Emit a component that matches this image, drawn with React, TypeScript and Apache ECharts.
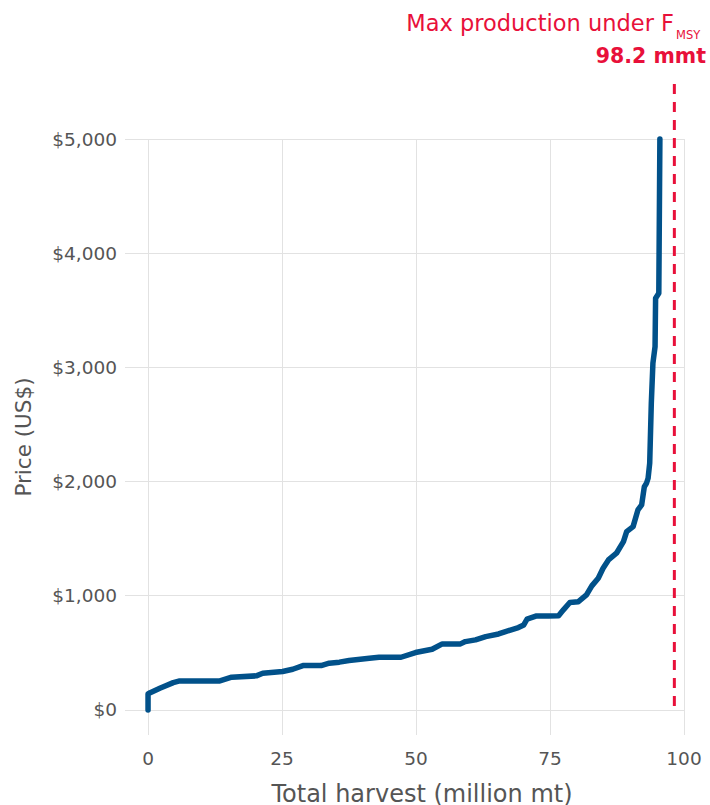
import React, { useEffect, useRef } from "react";
import * as echarts from "echarts";

// Supply curve: cumulative harvest (million mt) vs price (US$)
const harvest = [
  0, 0, 0.4, 2.2, 4.7, 5.9, 13.4, 15.6, 20.2, 21.4, 25.1, 27.0, 28.9, 32.3, 33.8, 35.7,
  37.5, 41.3, 43.1, 47.2, 49.9, 53.0, 54.9, 58.3, 59.2, 61.1, 63.0, 65.4, 66.7, 69.1,
  70.1, 70.7, 72.5, 74.7, 76.6, 77.5, 78.7, 80.3, 81.8, 82.8, 84.0, 84.9, 85.9, 87.4,
  88.7, 89.3, 90.5, 91.4, 92.1, 92.6, 93.0, 93.3, 93.6, 93.9, 94.2, 94.6, 94.7, 95.3, 95.5,
];
const price = [
  0, 140, 151, 190, 239, 254, 254, 286, 298, 321, 336, 356, 388, 388, 409, 418,
  432, 452, 461, 461, 502, 531, 578, 578, 598, 613, 642, 665, 686, 721,
  744, 794, 823, 823, 825, 876, 940, 948, 1007, 1086, 1153, 1241, 1313, 1372,
  1474, 1561, 1605, 1751, 1795, 1955, 1985, 2029, 2160, 2686, 3036, 3181, 3605, 3649, 5000,
];
const xTicks = [0, 25, 50, 75, 100];
const yTicks = [0, 1000, 2000, 3000, 4000, 5000];
const fmsyHarvest = 98.2;
const xTitle = "Total harvest (million mt)";
const yTitle = "Price (US$)";
const annotationTitle = "Max production under F";
const annotationSub = "MSY";
const annotationValue = "98.2 mmt";

const FONT = "'DejaVu Sans', sans-serif";
const GREY = "#555555";
const RED = "#e8103a";
const BLUE = "#01518a";

export default function App() {
  const ref = useRef<HTMLDivElement>(null);

  useEffect(() => {
    if (!ref.current) return;
    const chart = echarts.init(ref.current, undefined, { renderer: "svg" });
    const data = harvest.map((h, i) => [h, price[i]]);
    chart.setOption({
      animation: false,
      grid: { left: 125, right: 26, top: 139, bottom: 70, outerBoundsMode: "none" },
      xAxis: {
        type: "value",
        min: -4.3,
        max: 100,
        axisLine: { show: false },
        axisTick: { show: false, customValues: xTicks },
        axisLabel: {
          customValues: xTicks,
          color: GREY,
          fontSize: 18.5,
          fontFamily: FONT,
          margin: 14,
        },
        splitLine: { show: true, lineStyle: { color: "#e2e2e2", width: 1 } },
      },
      yAxis: {
        type: "value",
        min: -220,
        max: 5000,
        name: yTitle,
        nameLocation: "middle",
        nameGap: 91,
        nameTextStyle: { color: GREY, fontSize: 21.5, fontFamily: FONT },
        axisLine: { show: false },
        axisTick: { show: false, customValues: yTicks },
        axisLabel: {
          customValues: yTicks,
          color: GREY,
          fontSize: 18.5,
          fontFamily: FONT,
          margin: 8,
          formatter: (v: number) => "$" + v.toLocaleString("en-US"),
        },
        splitLine: { show: true, lineStyle: { color: "#e2e2e2", width: 1 } },
      },
      series: [
        {
          type: "line",
          data,
          showSymbol: false,
          symbol: "none",
          smooth: false,
          lineStyle: { color: BLUE, width: 5.5, cap: "round", join: "round" },
          clip: false,
        },
      ],
    });

    const xPx = chart.convertToPixel({ xAxisIndex: 0 }, fmsyHarvest) as number;
    const y0 = chart.convertToPixel({ yAxisIndex: 0 }, 0) as number;
    chart.setOption({
      graphic: [
        {
          type: "line",
          shape: { x1: xPx, y1: 84, x2: xPx, y2: y0 },
          style: { stroke: RED, lineWidth: 3, lineDash: [10, 8] },
          z: 10,
        },
        {
          type: "text",
          x: 422,
          y: 794,
          style: {
            text: xTitle,
            fill: GREY,
            fontSize: 24,
            fontFamily: FONT,
            align: "center",
            verticalAlign: "middle",
          },
        },
        {
          type: "text",
          x: 674,
          y: 23,
          style: {
            text: annotationTitle,
            fill: RED,
            fontSize: 22.5,
            fontFamily: FONT,
            align: "right",
            verticalAlign: "middle",
          },
        },
        {
          type: "text",
          x: 676,
          y: 35,
          style: {
            text: annotationSub,
            fill: RED,
            fontSize: 11.5,
            fontFamily: FONT,
            align: "left",
            verticalAlign: "middle",
          },
        },
        {
          type: "text",
          x: 706,
          y: 56,
          style: {
            text: annotationValue,
            fill: RED,
            fontSize: 20.5,
            fontWeight: "bold",
            fontFamily: FONT,
            align: "right",
            verticalAlign: "middle",
          },
        },
      ],
    });

    return () => chart.dispose();
  }, []);

  return <div ref={ref} style={{ width: 710, height: 805, position: "absolute", left: 0, top: 0 }} />;
}
